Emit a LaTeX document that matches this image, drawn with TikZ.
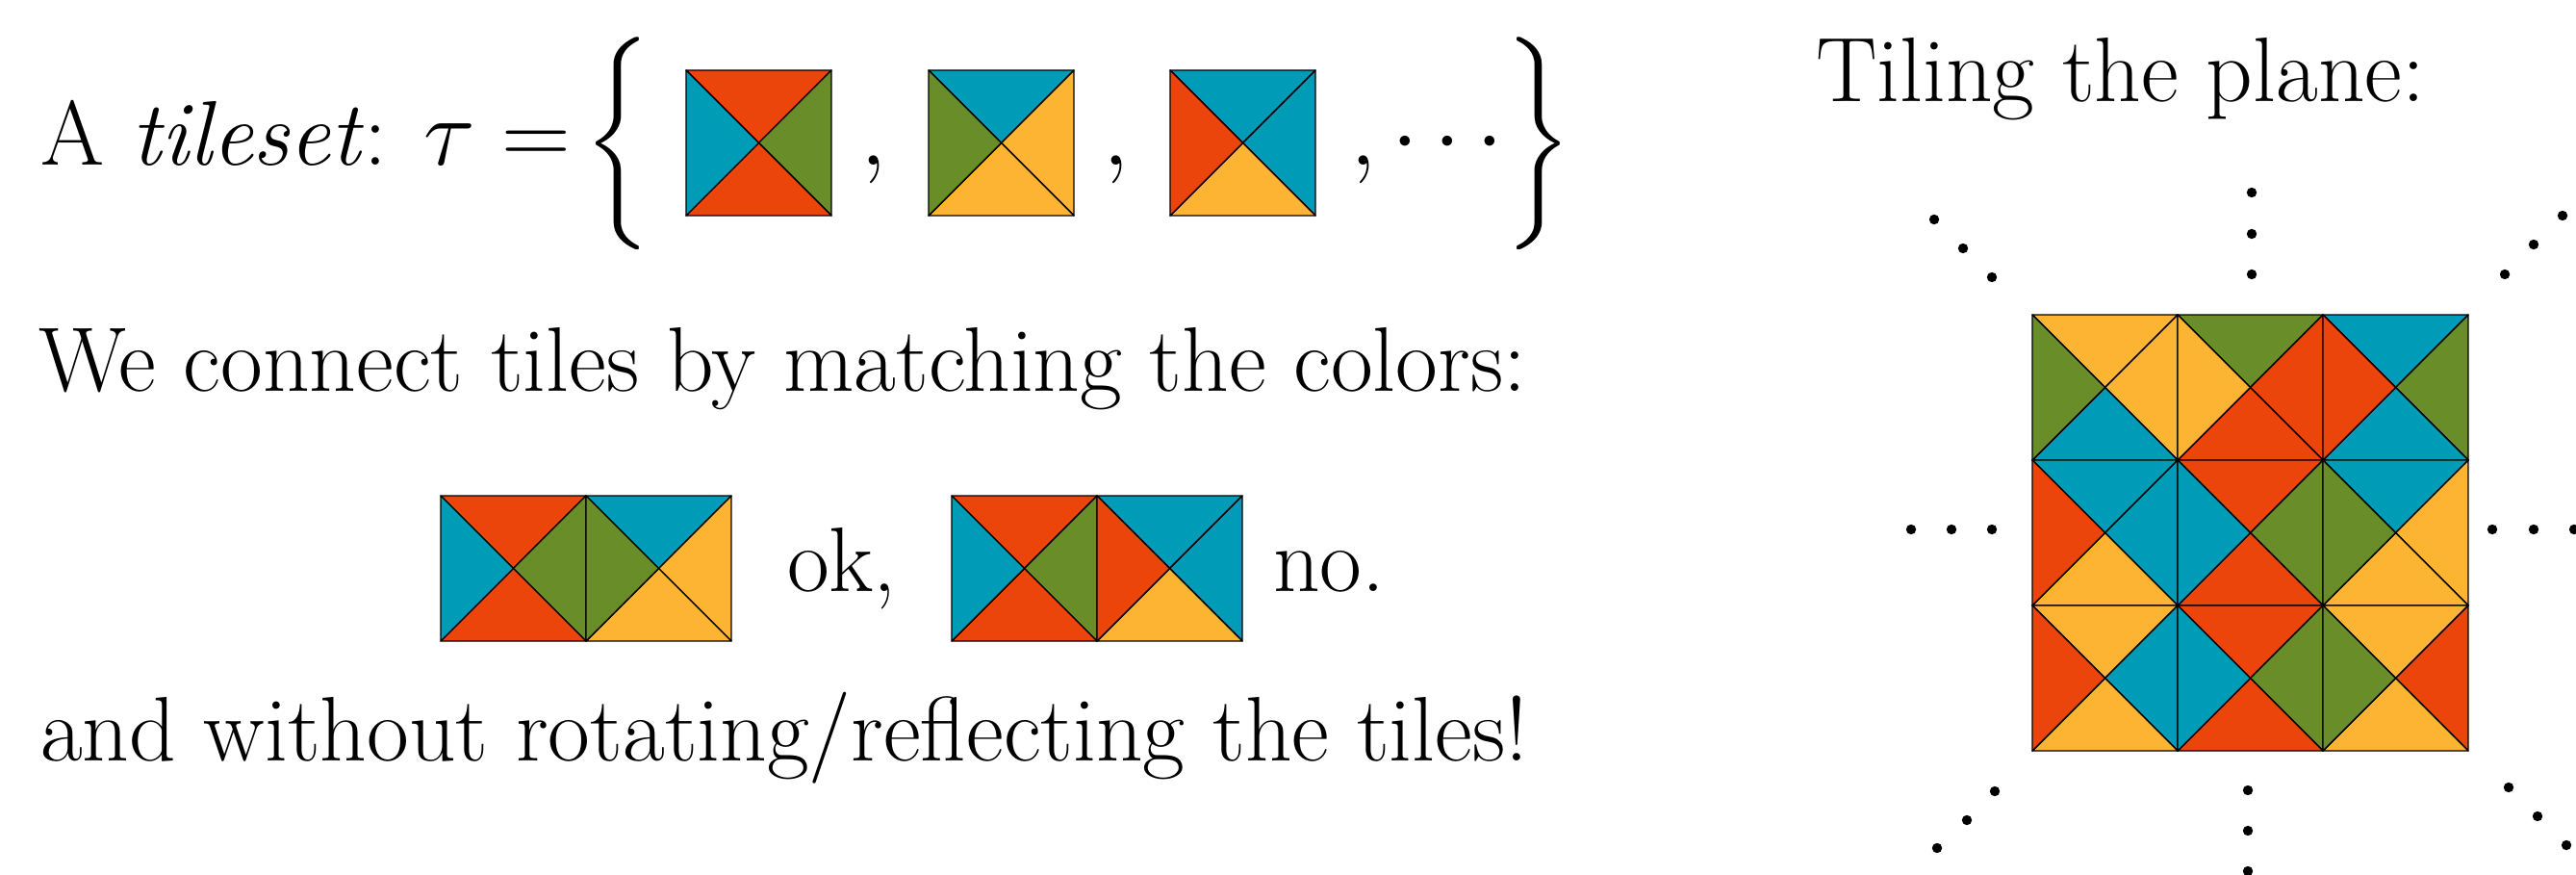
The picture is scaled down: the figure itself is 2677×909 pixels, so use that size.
\documentclass[tikz,border=0pt]{standalone}
\usepackage{fontspec}
\definecolor{tred}{RGB}{235,69,11}
\definecolor{tblue}{RGB}{0,156,183}
\definecolor{tgreen}{RGB}{105,142,41}
\definecolor{tyellow}{RGB}{253,180,51}
\newcommand{\tilesq}[6]{%
  \begin{scope}[shift={(#1,#2)}]
    \filldraw[tileline,fill=#3] (0,0) -- (151,0) -- (75.5,75.5) -- cycle;
    \filldraw[tileline,fill=#4] (151,0) -- (151,151) -- (75.5,75.5) -- cycle;
    \filldraw[tileline,fill=#5] (151,151) -- (0,151) -- (75.5,75.5) -- cycle;
    \filldraw[tileline,fill=#6] (0,151) -- (0,0) -- (75.5,75.5) -- cycle;
  \end{scope}}
\newcommand{\bigbrace}[1]{\scalebox{2.3}{\fontsize{10}{12}\selectfont #1}}
\tikzset{
  tileline/.style={draw=black,line width=0.35pt,line join=round},
  txt/.style={anchor=base west,inner sep=0pt,outer sep=0pt,font=\fontsize{23.8}{29}\selectfont},
  mtxt/.style={anchor=base,inner sep=0pt,outer sep=0pt,font=\fontsize{23.8}{29}\selectfont},
  dotmark/.style={fill=black,draw=none}
}
\begin{document}
\begin{tikzpicture}[x=0.25pt,y=-0.25pt]
\useasboundingbox (0,0) rectangle (2677,909);
% first line
\node[txt] (t1) at (42,172) {A \textit{tileset}: $\tau =$};
\node[mtxt] (lb) at (648,172) {\bigbrace{$\left\{\vcenter{\hbox{\rule{0pt}{23pt}}}\right.$}};
\tilesq{713}{73}{tred}{tgreen}{tred}{tblue}
\node[mtxt] (c1) at (908,172) {$,$};
\tilesq{965}{73}{tblue}{tyellow}{tyellow}{tgreen}
\node[mtxt] (c2) at (1160,172) {$,$};
\tilesq{1216}{73}{tblue}{tblue}{tyellow}{tred}
\node[txt] (c3) at (1403,172) {$,\cdots$};
\node[mtxt] (rb) at (1593,172) {\bigbrace{$\left.\vcenter{\hbox{\rule{0pt}{23pt}}}\right\}$}};
% second line
\node[txt] (t2) at (40,406) {We connect tiles by matching the colors:};
% pairs
\tilesq{458}{515}{tred}{tgreen}{tred}{tblue}
\tilesq{609}{515}{tblue}{tyellow}{tyellow}{tgreen}
\node[txt] (ok) at (818,614) {ok,};
\tilesq{989}{515}{tred}{tgreen}{tred}{tblue}
\tilesq{1140}{515}{tblue}{tblue}{tyellow}{tred}
\node[txt] (no) at (1323,614) {no.};
% third line
\node[txt] (t3) at (42,790) {and without rotating/reflecting the tiles!};
% right part
\node[txt] (t4) at (1887,106) {Tiling the plane:};
% grid: N E S W
\tilesq{2112}{327}{tyellow}{tyellow}{tblue}{tgreen}
\tilesq{2263}{327}{tgreen}{tred}{tred}{tyellow}
\tilesq{2414}{327}{tblue}{tgreen}{tblue}{tred}
\tilesq{2112}{478}{tblue}{tblue}{tyellow}{tred}
\tilesq{2263}{478}{tred}{tgreen}{tred}{tblue}
\tilesq{2414}{478}{tblue}{tyellow}{tyellow}{tgreen}
\tilesq{2112}{629}{tyellow}{tblue}{tyellow}{tred}
\tilesq{2263}{629}{tred}{tgreen}{tred}{tblue}
\tilesq{2414}{629}{tyellow}{tred}{tyellow}{tgreen}
% dots
\foreach \p in {(2340,200),(2340,243),(2340,285),
  (2010,228),(2040,258),(2070,288),
  (2663,224),(2633,254),(2603,285),
  (1986,550),(2028,550),(2070,550),
  (2590,550),(2633,550),(2675,550),
  (2073,822),(2044,852),(2013,881),
  (2336,821),(2336,863),(2336,905),
  (2607,818),(2637,848),(2667,878)}
  \fill[dotmark] \p circle[radius=1.3pt];
\end{tikzpicture}
\end{document}
